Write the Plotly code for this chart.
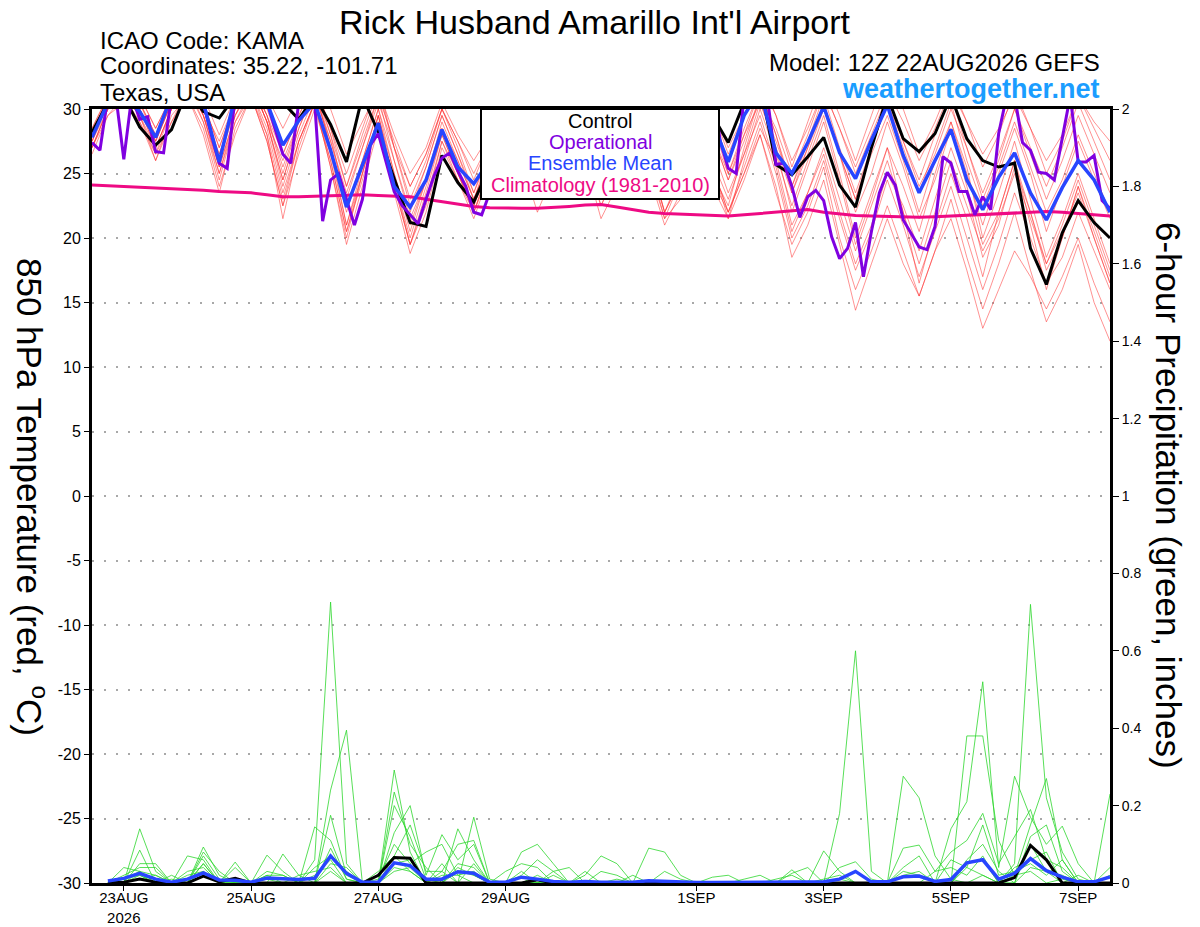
import plotly.graph_objects as go
import pandas as pd

# ---------------- data ----------------
RUN_START = "2026-08-22 12:00"
N6 = 65   # 6-hourly GEFS steps
N3 = 129  # 3-hourly operational steps

xtick_dates = ["2026-08-23", "2026-08-25", "2026-08-27", "2026-08-29",
               "2026-09-01", "2026-09-03", "2026-09-05", "2026-09-07"]
xtick_text = ["23AUG<br>2026", "25AUG", "27AUG", "29AUG", "1SEP", "3SEP", "5SEP", "7SEP"]
ytick_vals = [30, 25, 20, 15, 10, 5, 0, -5, -10, -15, -20, -25, -30]
ytick_text = ["30", "25", "20", "15", "10", "5", "0", "-5", "-10", "-15", "-20", "-25", "-30"]

control_t = [28.2,
             30.5, 31, 28.6, 27.2,   28.4, 31.5, 29.8, 29.3,   31, 32, 31, 30.5,   29.2, 31, 28.8, 25.9,
             31, 28.2, 24.6, 21.2,   20.9, 26.4, 24.3, 22.8,   25.5, 29, 27, 25,   28, 30.5, 28, 26,
             29, 31, 28, 26,         29, 31, 29.5, 27.4,       30.5, 32, 25.7, 24.9,   26.3, 27.8, 24.1, 22.4,
             27, 31, 27.7, 26.7,     28.1, 31, 27.7, 26.0,     25.5, 25.8, 19.2, 16.4,   20.4, 22.9, 21.2, 20.0]

mean_t = [27.8,
          30.5, 31, 29.8, 27.8,   31, 31.5, 30.5, 25.9,   31, 31.5, 30.5, 27.2,   29.1, 30.5, 26.8, 22.4,
          25.6, 28.9, 24.0, 22.4, 24.5, 28.4, 25.5, 24.2, 26, 29, 27.5, 26,       28, 30, 28.5, 27,
          29, 30.5, 28.5, 27,     29, 30.5, 29, 25.9,     29.5, 31.5, 26.6, 25.0, 27.4, 30.2, 26.6, 24.6,
          27.6, 30.3, 26.4, 23.5, 26, 28.4, 24.5, 22.2,   24.7, 26.6, 23.5, 21.4, 23.9, 26.0, 24.5, 22.0]

oper_t = [27.4,
          26.8, 31, 31, 26.1, 31, 29.2, 29.4, 26.7,
          26.6, 31, 31.5, 32, 31, 30.5, 28, 25.8,
          25.4, 31, 32, 32, 31, 30.5, 28.5, 26.5,
          25.8, 30.5, 31, 30.5, 21.3, 24.5, 25.0, 23.0,
          21.0, 23.0, 27.2, 28.1, 25.9, 23.6, 22.5, 21.8,
          21.1, 23.0, 24.8, 26.2, 26.6, 25.2, 24.0, 22.0,
          21.8, 23.5, 24.5, 26, 28, 29.5, 31, 30,
          28, 26.5, 25.5, 27, 29, 30.5, 31, 29.5,
          27.5, 26, 25.5, 27, 29.5, 31, 31.5, 30,
          28, 26.5, 25.5, 27.5, 30, 31.5, 27.5, 25.4,
          25.0, 31, 32, 32, 30.5, 25.7, 25.8, 24.0,
          21.6, 23.2, 23.7, 22.9, 20.1, 18.4, 19.2, 21.2,
          17.0, 20.5, 23.5, 25.1, 24.1, 21.4, 20.3, 19.3,
          19.1, 20.9, 26.3, 25.8, 23.6, 23.6, 21.8, 23.2,
          22.2, 28.1, 31, 31, 27.4, 26.8, 25.1, 25.0,
          24.5, 27.6, 31, 25.9, 25.9, 26.4, 22.9, 22.3]

clim_t = [24.1,
          24.05, 24.0, 23.95, 23.9,  23.85, 23.8, 23.7, 23.6,  23.55, 23.5, 23.35, 23.2,  23.2, 23.25, 23.3, 23.35,
          23.35, 23.3, 23.25, 23.2,  23.0, 22.8, 22.6, 22.45,  22.35, 22.3, 22.3, 22.3,  22.35, 22.45, 22.55, 22.6,
          22.4, 22.2, 22.0, 21.9,    21.85, 21.8, 21.75, 21.7, 21.8, 21.9, 22.0, 22.1,   22.2, 22.0, 21.85, 21.75,
          21.7, 21.65, 21.6, 21.6,   21.65, 21.7, 21.75, 21.8, 21.85, 21.9, 22.0, 22.05, 22.0, 21.9, 21.8, 21.7]

member_t_1 = [28.5, 31, 32, 31, 28.5, 31, 33, 31, 28, 31, 33, 31, 28.5, 31, 32.5, 30, 26.5, 29, 31.5, 28, 25, 27, 30.5, 28, 26, 28, 31, 29, 26.5, 29, 32, 30, 27, 29.5, 32, 30, 27.5, 29.5, 32, 30, 27, 29.5, 32, 29.5, 26, 28.5, 31.5, 28.5, 25.5, 28.5, 31.5, 29, 26, 28.5, 31.5, 29, 26.5, 28.5, 31, 28.5, 26, 28, 31, 29, 27.5]
member_t_2 = [27.5, 30.5, 31.5, 30, 27, 30, 32, 29.5, 25.5, 29.5, 32, 29, 24.5, 28.5, 31.5, 27, 22, 26, 30, 25, 21, 24.5, 28.5, 25, 22.5, 26, 30, 27.5, 24, 27.5, 30.5, 28, 25, 28, 31, 28.5, 25.5, 28.5, 31, 28, 24.5, 28, 30.5, 27, 23.5, 27, 30, 26.5, 23, 26.5, 29.5, 26, 22, 26, 29, 25, 21, 25, 28.5, 25, 20.5, 24, 27.5, 24.5, 21.5]
member_t_3 = [27, 30, 31, 29, 26, 29.5, 31, 28, 23.5, 28.5, 31, 27.5, 22.5, 27.5, 30.5, 25.5, 20, 25, 29.5, 24, 19.5, 23, 27.5, 24.5, 21.5, 25, 29, 26.5, 23.5, 26.5, 30, 27, 24.5, 27, 30, 27, 23, 26, 29, 25.5, 22, 25, 28, 23.5, 19.5, 22, 25.5, 20, 16, 19, 22.5, 19, 15.5, 19, 23, 18.5, 14.5, 18, 22, 17.5, 13.5, 16, 19.5, 15, 12]
member_t_4 = [28, 31, 32, 30.5, 27.5, 30.5, 32.5, 30, 26.5, 30, 32, 29, 24, 28, 31, 27.5, 23.5, 27, 31, 26, 22, 25.5, 29.5, 26.5, 23, 26.5, 30.5, 28, 24.5, 27.5, 31, 28.5, 25.5, 28.5, 31.5, 29, 25.5, 28.5, 31.5, 29, 25, 28.5, 31.5, 28, 24, 27.5, 31, 27, 23.5, 27, 30.5, 27.5, 24.5, 28, 31, 27, 23, 26, 30, 27, 24, 27, 30.5, 27.5, 24.5]
member_t_5 = [26.5, 29.5, 31, 29.5, 27, 30, 32, 29, 24.5, 29, 31.5, 28, 21.5, 27, 30.5, 26, 20.5, 25, 29.5, 24.5, 20, 24, 28, 25, 22, 25.5, 29.5, 27, 23.5, 26.5, 30, 27, 22.5, 25, 29, 26.5, 22, 25, 28.5, 25.5, 21.5, 26, 30, 26.5, 22.5, 26, 29.5, 25, 20, 23.5, 27, 22, 16.5, 21, 25, 21.5, 17, 22, 26, 21, 16, 20, 24, 20.5, 17]
member_t_6 = [27.5, 30, 31.5, 30, 27.5, 30.5, 32, 30, 26, 30, 32, 29.5, 25.5, 29, 31.5, 28, 24, 27.5, 31, 27.5, 24, 26.5, 30, 27, 23.5, 27, 30.5, 28, 24.5, 27.5, 30.5, 28, 23.5, 26, 29, 26.5, 22, 24.5, 27, 25, 22.5, 27, 31, 27, 22, 25.5, 29, 24.5, 19.5, 23, 27, 24, 20.5, 25, 29, 25.5, 20, 23.5, 27.5, 23, 18.5, 21.5, 25, 21.5, 18]
member_t_7 = [28, 30.5, 32, 30.5, 28, 31, 33, 30.5, 27, 30.5, 32.5, 29.5, 25, 29, 32, 28.5, 25, 28.5, 32, 27, 23, 26, 30, 27.5, 24.5, 27.5, 31, 29, 26, 29, 32, 29.5, 26.5, 29, 32, 30, 27, 30, 32.5, 30, 26.5, 29.5, 32.5, 29.5, 25.5, 29, 32.5, 29.5, 26, 29.5, 33, 30, 26.5, 29, 32, 29, 25.5, 28, 31.5, 28.5, 25, 27.5, 31, 28.5, 26]
member_t_8 = [27, 29.5, 30.5, 29, 26.5, 29, 31, 28.5, 24, 28, 31, 28, 23, 27.5, 30.5, 26.5, 21, 25.5, 29, 23.5, 18.8, 22, 27, 24.5, 22, 25, 29, 26.5, 23, 26, 29.5, 26, 21.5, 24, 27.5, 25, 21, 23.5, 26.5, 24, 21.5, 24.5, 28, 24, 18.5, 21, 24.5, 19.5, 14.4, 18, 21.5, 18, 15.5, 19, 21.5, 17.5, 13, 16, 19, 17, 14.5, 17, 20, 16.5, 13.5]
member_t_9 = [28, 31, 32.5, 31, 28.5, 31, 32.5, 30.5, 27, 30.5, 32, 29, 24.5, 28.5, 31.5, 27, 21, 25, 29.5, 25, 20.5, 24.5, 28.5, 26, 23, 26, 29.5, 27.5, 24.5, 27, 30, 27, 23, 25.5, 29, 26, 22, 24.5, 28, 26, 23, 26.5, 30.5, 27.5, 24, 27, 30.5, 26.5, 22, 25, 29, 25.5, 21.5, 24.5, 28.5, 24, 19.5, 22, 26, 22, 18, 21, 24.5, 21, 17.5]
member_t_10 = [27, 30, 31, 29.5, 26, 29, 31.5, 29, 25, 29, 31, 27.5, 22.5, 26.5, 30, 26, 20.5, 24.5, 29, 24.5, 19.5, 23.5, 28, 25, 22, 25.5, 29.5, 27, 24, 26.5, 30, 27.5, 24.5, 27, 30, 27, 24, 27, 30, 27, 23.5, 26.5, 29.5, 25.5, 20.5, 23.5, 27, 23, 19, 22.5, 26, 22, 18, 22, 26, 22.5, 19, 21.5, 25, 21.5, 18, 20.5, 23.5, 20, 16.5]
member_t_11 = [28.5, 31, 32, 30.5, 28, 30.5, 32, 29.5, 26.5, 30, 32, 29, 26, 29, 31.5, 27.5, 23, 27, 30.5, 27, 24, 26.5, 30, 27.5, 25, 27.5, 31, 28.5, 25, 27.5, 30.5, 28, 25.5, 28, 31, 28.5, 25.5, 28, 31, 28, 24.5, 27.5, 31, 28.5, 25, 28, 31.5, 28.5, 25, 28, 31, 27.5, 24, 26.5, 30, 27, 23.5, 26.5, 30, 26.5, 23, 26, 29.5, 26.5, 23.5]
member_t_12 = [27.5, 30.5, 31.5, 29.5, 26.5, 30, 32, 29.5, 25.5, 29.5, 31.5, 28.5, 23.5, 27.5, 30.5, 25.5, 19.5, 24, 28.5, 24, 19.5, 22.5, 27.5, 25, 22.5, 25.5, 29, 26, 22, 25, 28.5, 26, 22.5, 25.5, 29, 26, 21.5, 24.5, 28, 25.5, 22, 25.5, 29, 25, 20, 22.5, 26, 21.5, 17.5, 20.5, 24.5, 21, 17, 20.5, 24, 20, 16, 19.5, 23.5, 20, 16.5, 18.5, 22, 19, 16]
member_t_13 = [28, 30.5, 32, 30, 27, 30, 32, 29.5, 25, 29.5, 32, 29.5, 26.5, 29.5, 32, 28.5, 24, 28, 31.5, 27, 22.5, 25.5, 29.5, 26.5, 23.5, 26.5, 30, 27.5, 24.5, 27.5, 30.5, 28, 25, 28, 31, 28, 24.5, 27.5, 30.5, 28, 25, 28, 31.5, 28, 23.5, 26.5, 30, 26.5, 23, 27, 30.5, 27, 23.5, 27, 30.5, 26, 22.5, 25.5, 29, 25.5, 22, 24.5, 28, 25, 22]
member_t_14 = [27, 30, 31, 30, 27.5, 30.5, 32.5, 30, 27.5, 30.5, 32.5, 30, 26.5, 29.5, 32, 28, 22.5, 26, 30, 26, 21.5, 24.5, 29, 26, 23, 26, 30, 27.5, 24, 26.5, 29.5, 27, 23, 25.5, 28.5, 25.5, 21.5, 23, 26.5, 24.5, 22, 25, 28.5, 26, 21, 23.5, 26.5, 22, 18, 21, 25, 22.5, 19, 23, 27, 23.5, 18.5, 21, 25.5, 22, 17.5, 20, 24, 20, 16.5]

control_p = [None,
             0, 0.002, 0.01, 0.002,  0, 0, 0.018, 0.003,  0.012, 0, 0, 0,  0, 0, 0, 0,
             0, 0.02, 0.066, 0.064,  0, 0, 0, 0,  0, 0, 0, 0.008,  0, 0, 0, 0,
             0, 0, 0, 0,  0, 0, 0, 0,  0, 0, 0, 0,  0, 0, 0, 0,
             0, 0, 0, 0,  0, 0, 0, 0,  0, 0.014, 0.097, 0.06,  0, 0, 0, 0]

mean_p = [None,
          0.005, 0.012, 0.025, 0.01,  0.002, 0.01, 0.026, 0.008,  0.007, 0.002, 0.013, 0.011,  0.009, 0.012, 0.07, 0.025,
          0.002, 0.002, 0.052, 0.045,  0.01, 0.01, 0.029, 0.025,  0.002, 0.002, 0.015, 0.01,  0.004, 0.002, 0.004, 0.002,
          0.003, 0.002, 0.006, 0.004,  0.002, 0.001, 0.001, 0.001,  0.001, 0.002, 0.003, 0.002,  0.001, 0.003, 0.01, 0.03,
          0.003, 0.003, 0.016, 0.018,  0.004, 0.009, 0.052, 0.06,  0.01, 0.025, 0.063, 0.032,  0.015, 0.003, 0.003, 0.016]

member_p_1 = [None, 0, 0.01, 0.03, 0.02, 0, 0, 0.05, 0, 0, 0, 0.02, 0, 0, 0.06, 0.726, 0.05, 0, 0, 0.07, 0.03, 0, 0, 0.04, 0.02, 0, 0, 0, 0.02, 0, 0, 0, 0, 0.01, 0, 0, 0, 0, 0, 0, 0, 0, 0, 0, 0, 0, 0, 0.18, 0.60, 0.03, 0, 0, 0, 0, 0, 0.04, 0.02, 0, 0, 0.1, 0.03, 0, 0, 0, 0]
member_p_2 = [None, 0, 0, 0.14, 0.03, 0, 0, 0.093, 0.02, 0, 0, 0, 0, 0, 0, 0.24, 0.395, 0, 0, 0.292, 0.08, 0, 0.03, 0, 0.17, 0.01, 0, 0, 0, 0, 0, 0, 0, 0, 0, 0, 0, 0, 0, 0, 0, 0, 0, 0, 0, 0, 0, 0, 0, 0, 0, 0.276, 0.22, 0.07, 0.01, 0, 0, 0, 0.05, 0.72, 0.22, 0.08, 0.01, 0, 0]
member_p_3 = [None, 0, 0, 0.085, 0, 0.02, 0, 0.08, 0.03, 0, 0, 0, 0.075, 0.02, 0, 0.175, 0.02, 0, 0, 0.235, 0.10, 0.04, 0, 0.14, 0.06, 0, 0, 0.03, 0, 0, 0, 0, 0, 0, 0, 0.09, 0.08, 0.02, 0, 0, 0, 0, 0, 0, 0, 0, 0, 0, 0, 0, 0, 0, 0, 0, 0, 0.38, 0.38, 0.11, 0.02, 0.15, 0.27, 0.06, 0, 0, 0.23]
member_p_4 = [None, 0, 0.04, 0.03, 0, 0, 0.07, 0.06, 0, 0.054, 0, 0.072, 0.03, 0, 0.145, 0.11, 0.01, 0, 0, 0.13, 0.20, 0.02, 0.125, 0.06, 0.10, 0, 0, 0, 0, 0.03, 0.04, 0, 0, 0, 0, 0, 0, 0, 0, 0, 0, 0, 0, 0, 0.034, 0, 0.083, 0.03, 0, 0, 0, 0, 0, 0, 0.14, 0.21, 0.52, 0.04, 0.276, 0.17, 0.1, 0.147, 0.05, 0, 0]
member_p_5 = [None, 0, 0, 0.05, 0.05, 0, 0, 0.05, 0, 0.04, 0, 0.03, 0.02, 0, 0.04, 0.07, 0.03, 0, 0.03, 0.07, 0.15, 0.03, 0.03, 0.10, 0.11, 0, 0, 0.08, 0.1, 0.05, 0, 0.02, 0.07, 0.05, 0, 0, 0, 0, 0, 0.015, 0.02, 0, 0, 0, 0, 0, 0, 0, 0, 0, 0, 0.09, 0.098, 0.03, 0.08, 0.11, 0.18, 0.05, 0.12, 0.19, 0.06, 0.04, 0, 0, 0.04]
member_p_6 = [None, 0, 0.02, 0.04, 0.04, 0, 0.03, 0.04, 0, 0, 0, 0.02, 0.02, 0, 0, 0.05, 0.04, 0, 0, 0.05, 0.06, 0, 0.02, 0.02, 0.03, 0, 0, 0.02, 0.06, 0.03, 0, 0, 0, 0, 0.02, 0, 0, 0, 0, 0, 0, 0, 0, 0, 0.025, 0.04, 0, 0, 0, 0, 0, 0.04, 0.07, 0, 0.06, 0.04, 0.15, 0.02, 0.03, 0.05, 0.02, 0.06, 0, 0, 0]
member_p_7 = [None, 0, 0, 0.02, 0, 0.01, 0, 0.03, 0, 0.01, 0, 0, 0, 0.02, 0.03, 0.04, 0, 0, 0.01, 0.1, 0.05, 0.08, 0.1, 0.02, 0, 0, 0.03, 0.05, 0.04, 0, 0, 0, 0, 0, 0, 0, 0.03, 0.01, 0, 0, 0, 0.01, 0.02, 0, 0, 0, 0, 0.04, 0.055, 0.01, 0, 0, 0, 0.03, 0.04, 0.02, 0.07, 0, 0.04, 0.06, 0.08, 0, 0.02, 0, 0.02]
member_p_8 = [None, 0, 0, 0.01, 0.02, 0, 0, 0.02, 0, 0, 0, 0.01, 0, 0, 0, 0.03, 0, 0, 0, 0.04, 0.03, 0, 0, 0.03, 0.02, 0, 0, 0, 0, 0, 0, 0, 0.03, 0.02, 0, 0, 0, 0, 0, 0, 0, 0, 0, 0, 0, 0, 0, 0.01, 0, 0, 0, 0.02, 0.03, 0, 0, 0.05, 0.06, 0, 0, 0.04, 0.03, 0.02, 0, 0, 0]
member_p_9 = [None, 0, 0.01, 0.02, 0, 0, 0, 0.07, 0.01, 0, 0, 0, 0, 0, 0, 0.09, 0.01, 0, 0, 0.2, 0.12, 0.01, 0, 0.05, 0.04, 0, 0, 0, 0, 0.02, 0, 0, 0, 0, 0, 0, 0, 0, 0, 0, 0, 0, 0, 0, 0, 0, 0.01, 0.02, 0, 0, 0, 0, 0, 0, 0, 0.06, 0.1, 0.03, 0, 0.12, 0.15, 0.03, 0, 0, 0]
member_p_10 = [None, 0, 0, 0.03, 0, 0, 0.02, 0.03, 0, 0, 0, 0, 0, 0, 0.02, 0.06, 0, 0, 0, 0.03, 0.04, 0, 0.05, 0, 0.05, 0, 0, 0, 0, 0, 0, 0.03, 0, 0, 0, 0, 0, 0, 0, 0, 0, 0, 0, 0.01, 0.02, 0, 0, 0, 0, 0, 0, 0.03, 0.02, 0, 0, 0, 0.02, 0, 0.02, 0.03, 0, 0.01, 0, 0, 0]

members_t = [member_t_1, member_t_2, member_t_3, member_t_4, member_t_5, member_t_6, member_t_7,
             member_t_8, member_t_9, member_t_10, member_t_11, member_t_12, member_t_13, member_t_14]
members_p = [member_p_1, member_p_2, member_p_3, member_p_4, member_p_5,
             member_p_6, member_p_7, member_p_8, member_p_9, member_p_10]

# ---------------- figure ----------------
times6 = pd.date_range(RUN_START, periods=N6, freq="6h")
times3 = pd.date_range(RUN_START, periods=N3, freq="3h")

FONT = "Liberation Sans, Arial, Helvetica, sans-serif"
RED = "rgba(255,45,45,0.65)"
GREEN = "rgb(45,215,45)"
BLACK = "#000000"
PURPLE = "#8000e0"
BLUE = "#2845ff"
PINK = "#ee0a84"

fig = go.Figure()

for m in members_t:
    fig.add_trace(go.Scatter(x=times6[:len(m)], y=m, mode="lines",
                             line=dict(color=RED, width=0.8), hoverinfo="skip", yaxis="y"))

fig.add_trace(go.Scatter(x=times6[:len(clim_t)], y=clim_t, mode="lines",
                         line=dict(color=PINK, width=3), yaxis="y"))
fig.add_trace(go.Scatter(x=times6[:len(control_t)], y=control_t, mode="lines",
                         line=dict(color=BLACK, width=3), yaxis="y"))
fig.add_trace(go.Scatter(x=times3[:len(oper_t)], y=oper_t, mode="lines",
                         line=dict(color=PURPLE, width=3), yaxis="y"))
fig.add_trace(go.Scatter(x=times6[:len(mean_t)], y=mean_t, mode="lines",
                         line=dict(color=BLUE, width=3.5), yaxis="y"))

for m in members_p:
    fig.add_trace(go.Scatter(x=times6[:len(m)], y=m, mode="lines",
                             line=dict(color=GREEN, width=0.8), hoverinfo="skip", yaxis="y2"))
fig.add_trace(go.Scatter(x=times6[:len(control_p)], y=control_p, mode="lines",
                         line=dict(color=BLACK, width=3), yaxis="y2"))
fig.add_trace(go.Scatter(x=times6[:len(mean_p)], y=mean_p, mode="lines",
                         line=dict(color=BLUE, width=3.5), yaxis="y2"))

# page layout (the browser body adds an 8px offset, compensated here)
OFF = 8
PAGE_W, PAGE_H = 1200, 927
PL, PR, PT, PB = 92, 1110, 109, 883          # plot area on the page
W, H = PAGE_W - OFF, PAGE_H - OFF
L, T = PL - OFF, PT - OFF
R, B = PAGE_W - PR, PAGE_H - PB
PW, PH = PR - PL, PB - PT


def px(xp):
    return (xp - PL) / PW


def py(yp):
    return (PB - yp) / PH


annotations = [
    dict(text="Rick Husband Amarillo Int'l Airport", x=px(595), y=py(22), xanchor="center", yanchor="middle",
         font=dict(size=34, color="black")),
    dict(text="ICAO Code: KAMA", x=px(98), y=py(40), xanchor="left", yanchor="middle", font=dict(size=24)),
    dict(text="Coordinates: 35.22, -101.71", x=px(98), y=py(66), xanchor="left", yanchor="middle", font=dict(size=24)),
    dict(text="Texas, USA", x=px(98), y=py(92), xanchor="left", yanchor="middle", font=dict(size=24)),
    dict(text="Model: 12Z 22AUG2026 GEFS", x=px(1102), y=py(63), xanchor="right", yanchor="middle", font=dict(size=24)),
    dict(text="<b>weathertogether.net</b>", x=px(1102), y=py(89), xanchor="right", yanchor="middle",
         font=dict(size=27, color="#1a9dff")),
    dict(text="850 hPa Temperature (red, <sup>o</sup>C)", x=px(32), y=py(497), xanchor="center", yanchor="middle",
         textangle=90, font=dict(size=35)),
    dict(text="6-hour Precipitation (green, inches)", x=px(1168), y=py(495), xanchor="center", yanchor="middle",
         textangle=90, font=dict(size=35)),
    dict(text="Control", x=px(600), y=py(121), xanchor="center", yanchor="middle", font=dict(size=20, color=BLACK)),
    dict(text="Operational", x=px(600), y=py(142), xanchor="center", yanchor="middle", font=dict(size=20, color=PURPLE)),
    dict(text="Ensemble Mean", x=px(600), y=py(163), xanchor="center", yanchor="middle", font=dict(size=20, color=BLUE)),
    dict(text="Climatology (1981-2010)", x=px(600), y=py(185), xanchor="center", yanchor="middle",
         font=dict(size=20, color=PINK)),
]
for a in annotations:
    a.update(xref="paper", yref="paper", showarrow=False)

shapes = [dict(type="rect", xref="paper", yref="paper", x0=px(481), x1=px(719), y0=py(199), y1=1.0,
               fillcolor="white", line=dict(color="black", width=2), layer="above")]

fig.update_layout(
    width=W, height=H,
    margin=dict(l=L, r=R, t=T, b=B, pad=0, autoexpand=False),
    paper_bgcolor="white", plot_bgcolor="white",
    font=dict(family=FONT, color="black", size=15),
    showlegend=False,
    annotations=annotations,
    shapes=shapes,
    xaxis=dict(type="date", range=[times6[0], times6[-1]], tickvals=xtick_dates, ticktext=xtick_text,
               showgrid=False, zeroline=False, showline=True, linecolor="black", linewidth=3, mirror=True,
               ticks="outside", ticklen=5, tickwidth=1, tickcolor="black", tickfont=dict(size=15),
               ticklabelstandoff=-6, automargin=False),
    yaxis=dict(range=[-30, 30], tickvals=ytick_vals, ticktext=ytick_text, showgrid=True,
               gridcolor="#a8a8a8", griddash="2px,10px", gridwidth=1.5, zeroline=False,
               showline=True, linecolor="black", linewidth=3, mirror=True, ticks="outside", ticklen=5,
               tickcolor="black", tickfont=dict(size=16), automargin=False),
    yaxis2=dict(range=[0, 2], dtick=0.2, overlaying="y", side="right", showgrid=False, zeroline=False,
                showline=True, linecolor="black", linewidth=3, ticks="outside", ticklen=6,
                tickcolor="black", tickfont=dict(size=14), automargin=False),
)

fig.write_html("out.html")
